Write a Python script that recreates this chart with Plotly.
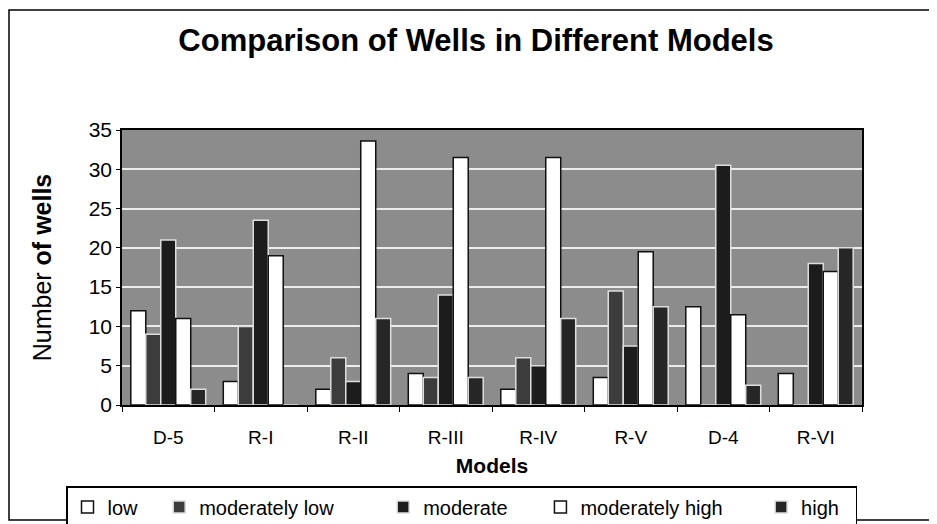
import plotly.graph_objects as go

categories = ["D-5", "R-I", "R-II", "R-III", "R-IV", "R-V", "D-4", "R-VI"]
low = [12, 3, 2, 4, 2, 3.5, 12.5, 4]
moderately_low = [9, 10, 6, 3.5, 6, 14.5, 0, 0]
moderate = [21, 23.5, 3, 14, 5, 7.5, 30.5, 18]
moderately_high = [11, 19, 33.6, 31.5, 31.5, 19.5, 11.5, 17]
high = [2, 0, 11, 3.5, 11, 12.5, 2.5, 20]

NB = "\u00a0"
series = [
    ("low", low, "#ffffff", "#111111", 3),
    ("moderately low", moderately_low, "#3c3c3c", "#dddddd", 8),
    ("moderate", moderate, "#1c1c1c", "#dddddd", 5),
    ("moderately high", moderately_high, "#ffffff", "#111111", 6),
    ("high", high, "#262626", "#dddddd", 2),
]

FONT = "Liberation Sans, Arial, sans-serif"

fig = go.Figure()
for name, vals, fill, line, pad in series:
    fig.add_trace(go.Bar(
        x=categories, y=vals, name=name + NB * pad,
        marker=dict(color=fill, line=dict(color=line, width=1.5)),
    ))

# page body has an 8px margin: figure coords = screen coords - 8
OFF = 8
W, H = 937, 524
L, R, T, B = 122 - OFF, 75 + OFF, 130 - OFF, 119 + OFF
pw = W - L - R
ph = H - T - B

def px_x(s):
    return (s - OFF - L) / pw

def px_y(s):
    return (H - B - (s - OFF)) / ph

fig.update_layout(
    width=W, height=H,
    margin=dict(l=L, r=R, t=T, b=B, autoexpand=False),
    paper_bgcolor="white",
    plot_bgcolor="#8c8c8c",
    barmode="group",
    bargap=0.19,
    bargroupgap=0,
    font=dict(family=FONT, color="black"),
    title=dict(
        text="<b>Comparison of Wells in Different Models</b>",
        x=(476 - OFF) / W, xref="container", xanchor="center",
        y=1 - (40 - OFF) / H, yref="container", yanchor="middle",
        font=dict(size=31, family=FONT, color="black"),
    ),
    legend=dict(
        orientation="h",
        x=px_x(66), xanchor="left",
        y=px_y(486), yanchor="top",
        font=dict(size=20, family=FONT, color="black"),
        bordercolor="black", borderwidth=1.5,
        bgcolor="white",
        itemwidth=30,
        tracegroupgap=0,
    ),
    showlegend=True,
)

fig.update_xaxes(
    title=dict(text="<b>Models</b>", font=dict(size=21, family=FONT), standoff=12),
    tickfont=dict(size=19, family=FONT),
    ticks="outside", tickson="boundaries", ticklen=5, tickcolor="black",
    ticklabelstandoff=14,
    showline=True, linecolor="black", linewidth=1.5, mirror=True,
    showgrid=False, automargin=False,
)
fig.update_yaxes(
    title=dict(text="Number <b>of wells</b>", font=dict(size=25, family=FONT), standoff=30),
    range=[0, 35], dtick=5,
    tickfont=dict(size=21, family=FONT),
    ticks="outside", ticklen=4, tickcolor="black",
    showline=True, linecolor="black", linewidth=1.5, mirror=True,
    showgrid=True, gridcolor="#ececec", gridwidth=1.5,
    zeroline=False, automargin=False,
)

# outer frame of the chart
fig.add_shape(type="rect", xref="paper", yref="paper",
              x0=px_x(9), x1=px_x(934), y0=px_y(520), y1=px_y(10),
              line=dict(color="black", width=1.5), fillcolor="rgba(0,0,0,0)", layer="below")

fig.write_html("out.html")
